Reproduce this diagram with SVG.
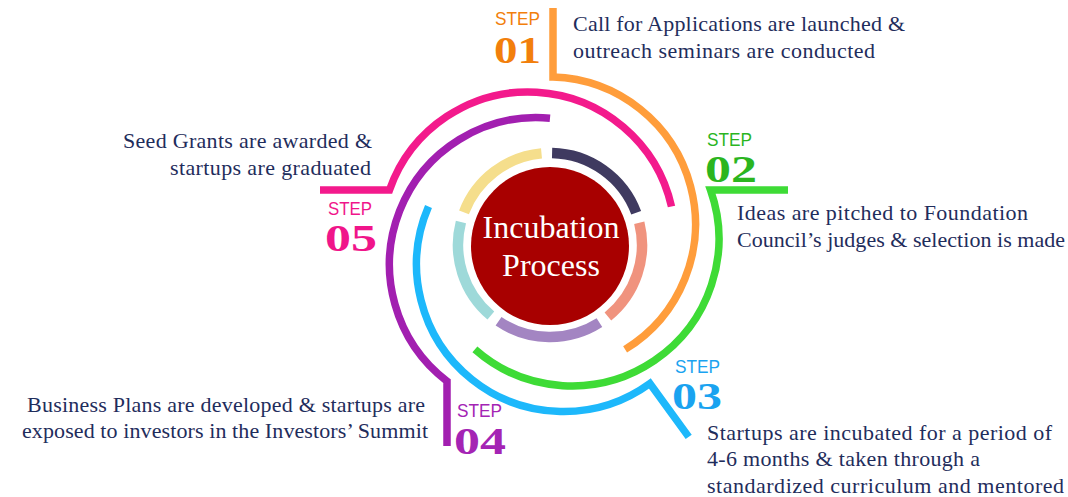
<svg xmlns="http://www.w3.org/2000/svg" width="1068" height="497" viewBox="0 0 1068 497">
<style>
.arc{fill:none;stroke-width:7.5;stroke-linecap:butt;stroke-linejoin:miter}
.seg{fill:none;stroke-width:10.5}
.step{font-family:"Liberation Sans","Open Sans",sans-serif;font-size:18px}
.num{font-family:"Liberation Serif","DejaVu Serif",serif;font-size:38px;font-weight:bold}
.desc{font-family:"Liberation Serif","Times New Roman",serif;font-size:22px;fill:#1F2D5C}
.center{font-family:"Liberation Serif","Times New Roman",serif;font-size:32px;fill:#FFFFFF;text-anchor:middle}
</style>
<rect width="1068" height="497" fill="#FFFFFF"/>
<g id="connectors">
<path class="arc" stroke="#FF9D3B" d="M553,8 V77.03 A147,147 0 0 1 625.1,349.4"/>
<path class="arc" stroke="#3EDB36" d="M788,190 H710.5 A147,147 0 0 1 474.9,349.4"/>
<path class="arc" stroke="#1DB8FB" d="M688.7,436.9 L649.9,383.5 A147,147 0 0 1 428.5,206.5"/>
<path class="arc" stroke="#A21FB0" d="M447,446 V381.2 A147,147 0 0 1 550,118.2"/>
<path class="arc" stroke="#F31A8C" d="M320,190 H389.5 A147,147 0 0 1 671.5,206.5"/>
</g>
<g id="ring">
<path class="seg" stroke="#3F3A60" d="M552.09,153.02 A92,92 0 0 1 636.17,212.78"/>
<path class="seg" stroke="#F0937E" d="M639.27,222.74 A92,92 0 0 1 607.90,316.50"/>
<path class="seg" stroke="#A385C2" d="M599.43,322.59 A92,92 0 0 1 498.55,321.27"/>
<path class="seg" stroke="#9ED9D9" d="M490.86,315.48 A92,92 0 0 1 460.93,221.96"/>
<path class="seg" stroke="#F5DE8C" d="M463.99,212.33 A92,92 0 0 1 541.50,153.39"/>
</g>
<g id="node-center">
<circle cx="550" cy="246" r="79" fill="#A80000"/>
<text class="center" x="551" y="238">Incubation</text>
<text class="center" x="551" y="276">Process</text>
</g>
<g id="step-01">
<text class="step" x="495" y="25" fill="#F27F0C" textLength="45" lengthAdjust="spacingAndGlyphs">STEP</text>
<text class="num" x="494" y="63" fill="#F27F0C" textLength="47" lengthAdjust="spacingAndGlyphs">01</text>
<text class="desc" x="573" y="31" textLength="332" lengthAdjust="spacing">Call for Applications are launched &amp;</text>
<text class="desc" x="573" y="58" textLength="302" lengthAdjust="spacing">outreach seminars are conducted</text>
</g>
<g id="step-02">
<text class="step" x="707" y="146" fill="#2BB51F" textLength="45" lengthAdjust="spacingAndGlyphs">STEP</text>
<text class="num" x="705" y="182" fill="#2BB51F" textLength="52" lengthAdjust="spacingAndGlyphs">02</text>
<text class="desc" x="737" y="220" textLength="291" lengthAdjust="spacing">Ideas are pitched to Foundation</text>
<text class="desc" x="737" y="247" textLength="328" lengthAdjust="spacing">Council’s judges &amp; selection is made</text>
</g>
<g id="step-03">
<text class="step" x="675" y="373" fill="#1AA3F0" textLength="45" lengthAdjust="spacingAndGlyphs">STEP</text>
<text class="num" x="672" y="409" fill="#1AA3F0" textLength="50" lengthAdjust="spacingAndGlyphs">03</text>
<text class="desc" x="707" y="440" textLength="345" lengthAdjust="spacing">Startups are incubated for a period of</text>
<text class="desc" x="707" y="466" textLength="273" lengthAdjust="spacing">4-6 months &amp; taken through a</text>
<text class="desc" x="707" y="493" textLength="357" lengthAdjust="spacing">standardized curriculum and mentored</text>
</g>
<g id="step-04">
<text class="step" x="457" y="417" fill="#A424B4" textLength="45" lengthAdjust="spacingAndGlyphs">STEP</text>
<text class="num" x="454" y="454" fill="#A424B4" textLength="52" lengthAdjust="spacingAndGlyphs">04</text>
<text class="desc" x="27" y="412" textLength="398" lengthAdjust="spacing">Business Plans are developed &amp; startups are</text>
<text class="desc" x="22" y="438" textLength="406" lengthAdjust="spacing">exposed to investors in the Investors’ Summit</text>
</g>
<g id="step-05">
<text class="step" x="328" y="215" fill="#F0158A" textLength="44" lengthAdjust="spacingAndGlyphs">STEP</text>
<text class="num" x="325" y="251" fill="#F0158A" textLength="52" lengthAdjust="spacingAndGlyphs">05</text>
<text class="desc" x="123" y="148" textLength="249" lengthAdjust="spacing">Seed Grants are awarded &amp;</text>
<text class="desc" x="170" y="175" textLength="201" lengthAdjust="spacing">startups are graduated</text>
</g>
</svg>
